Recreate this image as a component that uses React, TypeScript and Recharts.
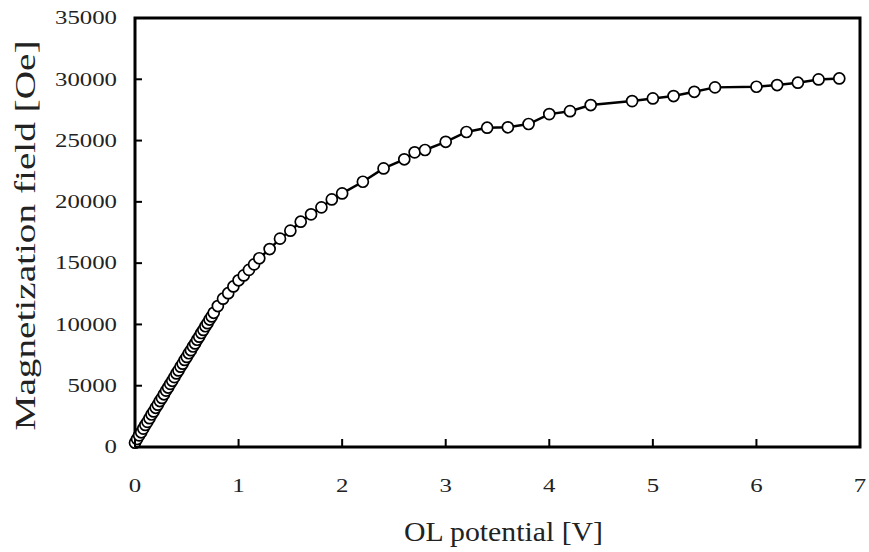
import { LineChart, Line, XAxis, YAxis, ReferenceArea, Label } from 'recharts'

const potential = [
  0, 0.02, 0.04, 0.06, 0.08, 0.1, 0.12, 0.14, 0.16, 0.18,
  0.2, 0.22, 0.24, 0.26, 0.28, 0.3, 0.32, 0.34, 0.36, 0.38,
  0.4, 0.42, 0.44, 0.46, 0.48, 0.5, 0.52, 0.54, 0.56, 0.58,
  0.6, 0.62, 0.64, 0.66, 0.68, 0.7, 0.72, 0.74, 0.76,
  0.8, 0.85, 0.9, 0.95, 1.0, 1.05, 1.1, 1.15, 1.2, 1.3,
  1.4, 1.5, 1.6, 1.7, 1.8, 1.9, 2.0, 2.2, 2.4, 2.6, 2.7, 2.8,
  3.0, 3.2, 3.4, 3.6, 3.8, 4.0, 4.2, 4.4, 4.8, 5.0, 5.2, 5.4, 5.6,
  6.0, 6.2, 6.4, 6.6, 6.8,
]

const field = [
  350, 650, 950, 1200, 1500, 1800, 2050, 2350, 2650, 2900,
  3200, 3450, 3750, 4000, 4300, 4600, 4850, 5150, 5400, 5700,
  6000, 6250, 6550, 6800, 7100, 7350, 7650, 7900, 8200, 8450,
  8750, 9000, 9300, 9550, 9850, 10100, 10400, 10650, 10950,
  11500, 12100, 12550, 13100, 13600, 14000, 14450, 14900, 15400, 16150,
  17000, 17650, 18380, 18980, 19550, 20200, 20690, 21640, 22730, 23470, 24040, 24230,
  24900, 25700, 26050, 26080, 26350, 27160, 27400, 27900, 28220, 28440, 28630, 28980, 29340,
  29390, 29530, 29720, 29990, 30070,
]

const xTicks = [0, 1, 2, 3, 4, 5, 6, 7]
const yTicks = [0, 5000, 10000, 15000, 20000, 25000, 30000, 35000]

const FONT = 'Liberation Serif'
const CHAR_W = 12.4

const data = potential.map((x, i) => ({ x, y: field[i] }))

function YTick(props: any) {
  const { x, y, payload } = props
  const s = String(payload.value)
  const ax = x + 18
  return (
    <g>
      <line x1={ax} y1={y} x2={ax + 7} y2={y} stroke="#000" strokeWidth={2} />
      <text
        x={x} y={y} dy="0.35em" textAnchor="end" fontFamily={FONT} fontSize={18} fill="#222"
        textLength={s.length * CHAR_W} lengthAdjust="spacingAndGlyphs"
      >
        {s}
      </text>
    </g>
  )
}

function XTick(props: any) {
  const { x, y, payload } = props
  const s = String(payload.value)
  const ay = y - 32
  return (
    <g>
      <line x1={x} y1={ay} x2={x} y2={ay - 8} stroke="#000" strokeWidth={2} />
      <text
        x={x} y={y} dy="0.71em" textAnchor="middle" fontFamily={FONT} fontSize={18} fill="#222"
        textLength={s.length * CHAR_W} lengthAdjust="spacingAndGlyphs"
      >
        {s}
      </text>
    </g>
  )
}

function YTitle({ viewBox }: any) {
  const cx = viewBox.x + 35
  const cy = viewBox.y + viewBox.height / 2 + 3
  return (
    <text
      x={cx} y={cy} transform={`rotate(-90 ${cx} ${cy})`} textAnchor="middle"
      fontFamily={FONT} fontSize={30} fill="#222" textLength={390} lengthAdjust="spacingAndGlyphs"
    >
      Magnetization field [Oe]
    </text>
  )
}

function XTitle({ viewBox }: any) {
  const cx = viewBox.x + viewBox.width / 2 + 6
  const cy = viewBox.y + 94
  return (
    <text
      x={cx} y={cy} textAnchor="middle" fontFamily={FONT} fontSize={28} fill="#222"
      textLength={199} lengthAdjust="spacingAndGlyphs"
    >
      OL potential [V]
    </text>
  )
}

export default function App() {
  return (
    <div style={{ position: 'absolute', left: 0, top: 0, background: '#fff' }}>
      <LineChart width={869} height={552} data={data} margin={{ top: 18, right: 9, left: 0, bottom: 0 }}>
        <XAxis
          type="number" dataKey="x" domain={[0, 7]} ticks={xTicks} height={105}
          axisLine={false} tickLine={false} tickSize={0} tickMargin={32} tick={<XTick />}
          interval={0}
        >
          <Label content={<XTitle />} />
        </XAxis>
        <YAxis
          type="number" dataKey="y" domain={[0, 35000]} ticks={yTicks} width={135}
          axisLine={false} tickLine={false} tickSize={0} tickMargin={18} tick={<YTick />}
          interval={0}
        >
          <Label content={<YTitle />} />
        </YAxis>
        <ReferenceArea x1={0} x2={7} y1={0} y2={35000} fill="none" stroke="#000" strokeWidth={3} ifOverflow="visible" />
        <Line
          type="linear" dataKey="y" stroke="#000" strokeWidth={2.5} isAnimationActive={false}
          dot={{ r: 5.5, fill: '#fff', stroke: '#000', strokeWidth: 1.7 }}
        />
      </LineChart>
    </div>
  )
}
